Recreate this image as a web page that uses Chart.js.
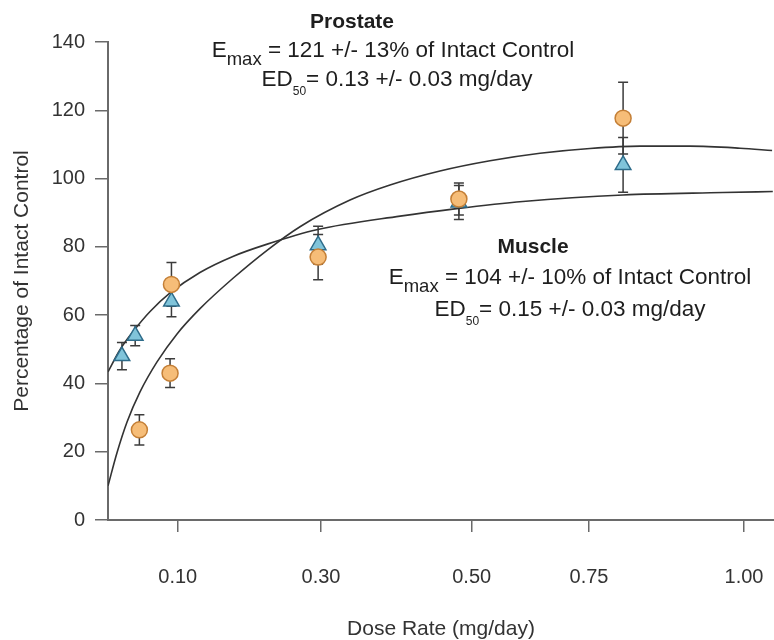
<!DOCTYPE html>
<html>
<head>
<meta charset="utf-8">
<script src="https://cdn.jsdelivr.net/npm/chart.js@4.4.1/dist/chart.umd.min.js"></script>
<style>
  html, body { margin: 0; background: #fff; }
  #wrap { width: 774px; height: 640px; position: relative; }
</style>
</head>
<body>
<div id="wrap"><canvas id="chart"></canvas></div>
<script>
// x axis ticks (dose, mg/day)
const doseTicks = [0.10, 0.30, 0.50, 0.75, 1.00];
const doseTickLabels = ['0.10', '0.30', '0.50', '0.75', '1.00'];

// prostate (circles): dose, mean % of intact control, error
const prostateDose = [0.045, 0.089, 0.091, 0.296, 0.483, 0.805];
const prostateMean = [26.4, 43, 69, 77, 94, 117.7];
const prostateErr  = [4.4, 4.2, 6.4, 6.6, 4.7, 10.5];

// muscle (triangles)
const muscleDose = [0.020, 0.039, 0.091, 0.296, 0.483, 0.805];
const muscleMean = [48, 54, 64, 80.5, 93, 104];
const muscleErr  = [4, 3, 4.5, 5.5, 5, 8];

// fitted curves
const prostateFitDose  = [0, 0.0129, 0.0273, 0.0459, 0.0703, 0.099, 0.1311, 0.1772, 0.2247, 0.2707, 0.3385, 0.3916, 0.4579, 0.539, 0.6456, 0.7516, 0.8323, 0.9129, 0.9935, 1.0468];
const prostateFitValue = [10, 19.7, 28.7, 37.5, 46.3, 54.5, 61.9, 70.8, 79, 85.9, 93.7, 98.1, 102.2, 105.2, 107.4, 108.8, 109.5, 109.5, 108.9, 108.2];
const muscleFitDose  = [0, 0.017, 0.036, 0.060, 0.089, 0.131, 0.177, 0.225, 0.294, 0.405, 0.480, 0.609, 0.805, 0.966, 1.048];
const muscleFitValue = [43.4, 49.8, 55.2, 61, 66.5, 72.5, 77.2, 80.8, 85, 89, 91.2, 93.3, 95.2, 95.9, 96.2];

// the printed dose axis is not evenly spaced; piecewise mapping dose -> fraction of axis
const knotDose = [0, 0.10, 0.30, 0.50, 0.75, 1.00, 1.05];
const knotSpot = [0, 0.1047, 0.3198, 0.5461, 0.7222, 0.9550, 1];

function doseToSpot(v) {
  const n = knotDose.length;
  for (let i = 1; i < n; i++) {
    if (v <= knotDose[i] || i === n - 1) {
      const t = (v - knotDose[i - 1]) / (knotDose[i] - knotDose[i - 1]);
      return knotSpot[i - 1] + t * (knotSpot[i] - knotSpot[i - 1]);
    }
  }
}
function spotToDose(s) {
  const n = knotSpot.length;
  for (let i = 1; i < n; i++) {
    if (s <= knotSpot[i] || i === n - 1) {
      const t = (s - knotSpot[i - 1]) / (knotSpot[i] - knotSpot[i - 1]);
      return knotDose[i - 1] + t * (knotDose[i] - knotDose[i - 1]);
    }
  }
}

class DoseScale extends Chart.LinearScale {
  getPixelForValue(value) {
    return this.getPixelForDecimal(doseToSpot(value));
  }
  getValueForPixel(pixel) {
    return spotToDose(this.getDecimalForPixel(pixel));
  }
}
DoseScale.id = 'dose';
DoseScale.defaults = Chart.LinearScale.defaults;
Chart.register(DoseScale);

const pts = (xs, ys) => xs.map((x, i) => ({ x: x, y: ys[i] }));

const FONT = '"Liberation Sans", Arial, Helvetica, sans-serif';
const AXIS = '#6a6a6a';

// error bars, drawn under the markers
const errorBars = {
  id: 'errorBars',
  beforeDatasetsDraw(chart) {
    const ctx = chart.ctx;
    const xs = chart.scales.x, ys = chart.scales.y;
    ctx.save();
    ctx.strokeStyle = '#3c3c3c';
    ctx.lineWidth = 1.5;
    chart.data.datasets.forEach((ds) => {
      if (!ds.errors) return;
      ds.data.forEach((p, i) => {
        const e = ds.errors[i];
        const px = xs.getPixelForValue(p.x);
        const top = ys.getPixelForValue(p.y + e);
        const bot = ys.getPixelForValue(p.y - e);
        ctx.beginPath();
        ctx.moveTo(px, top); ctx.lineTo(px, bot);
        ctx.moveTo(px - 5, top); ctx.lineTo(px + 5, top);
        ctx.moveTo(px - 5, bot); ctx.lineTo(px + 5, bot);
        ctx.stroke();
      });
    });
    ctx.restore();
  }
};

// text runs with sub-scripts
function drawRuns(ctx, runs, cx, baseline) {
  let total = 0;
  runs.forEach((r) => {
    ctx.font = (r.bold ? 'bold ' : '') + r.size + 'px ' + FONT;
    r.w = ctx.measureText(r.t).width;
    total += r.w;
  });
  let x = cx - total / 2;
  runs.forEach((r) => {
    ctx.font = (r.bold ? 'bold ' : '') + r.size + 'px ' + FONT;
    ctx.fillText(r.t, x, baseline + (r.dy || 0));
    x += r.w;
  });
}

const notes = {
  id: 'notes',
  afterDraw(chart) {
    const ctx = chart.ctx;
    ctx.save();
    ctx.fillStyle = '#1e1e1e';
    ctx.textAlign = 'left';
    ctx.textBaseline = 'alphabetic';
    drawRuns(ctx, [{ t: 'Prostate', size: 21, bold: true }], 352, 28);
    drawRuns(ctx, [{ t: 'E', size: 22.5 }, { t: 'max', size: 18.5, dy: 8 }, { t: ' = 121 +/- 13% of Intact Control', size: 22.5 }], 393, 57);
    drawRuns(ctx, [{ t: 'ED', size: 22.5 }, { t: '50', size: 12, dy: 9 }, { t: '= 0.13 +/- 0.03 mg/day', size: 22.5 }], 397, 86);
    drawRuns(ctx, [{ t: 'Muscle', size: 21, bold: true }], 533, 253);
    drawRuns(ctx, [{ t: 'E', size: 22.5 }, { t: 'max', size: 18.5, dy: 8 }, { t: ' = 104 +/- 10% of Intact Control', size: 22.5 }], 570, 284);
    drawRuns(ctx, [{ t: 'ED', size: 22.5 }, { t: '50', size: 12, dy: 9 }, { t: '= 0.15 +/- 0.03 mg/day', size: 22.5 }], 570, 316);
    ctx.restore();
  }
};

new Chart(document.getElementById('chart'), {
  type: 'scatter',
  data: {
    datasets: [
      {
        label: 'Prostate',
        data: pts(prostateDose, prostateMean),
        errors: prostateErr,
        pointStyle: 'circle',
        pointRadius: 8,
        backgroundColor: '#f6bd78',
        borderColor: '#c47f36',
        borderWidth: 1.5,
        order: 0
      },
      {
        label: 'Muscle',
        data: pts(muscleDose, muscleMean),
        errors: muscleErr,
        pointStyle: 'triangle',
        pointRadius: 9,
        backgroundColor: '#80c4da',
        borderColor: '#2e6c8a',
        borderWidth: 1.5,
        order: 1
      },
      {
        label: 'Prostate fit',
        data: pts(prostateFitDose, prostateFitValue),
        showLine: true,
        pointRadius: 0,
        borderColor: '#333',
        borderWidth: 1.6,
        cubicInterpolationMode: 'monotone',
        order: 2
      },
      {
        label: 'Muscle fit',
        data: pts(muscleFitDose, muscleFitValue),
        showLine: true,
        pointRadius: 0,
        borderColor: '#333',
        borderWidth: 1.6,
        cubicInterpolationMode: 'monotone',
        order: 2
      }
    ]
  },
  options: {
    responsive: true,
    maintainAspectRatio: false,
    animation: false,
    events: [],
    layout: { autoPadding: false, padding: { top: 42, right: 0, left: 0, bottom: 0 } },
    plugins: {
      legend: { display: false },
      tooltip: { enabled: false }
    },
    scales: {
      x: {
        type: 'dose',
        min: 0,
        max: 1.05,
        afterBuildTicks: (scale) => {
          scale.ticks = doseTicks.map((v) => ({ value: v }));
        },
        afterFit: (scale) => {
          scale.height = 120;
          scale.paddingLeft = 0;
          scale.paddingRight = 0;
        },
        border: { display: true, color: AXIS, width: 2 },
        grid: { drawOnChartArea: false, drawTicks: true, tickLength: 12, color: AXIS, lineWidth: 1.5 },
        ticks: {
          autoSkip: false,
          maxRotation: 0,
          padding: 33,
          color: '#333',
          font: { family: FONT, size: 20 },
          callback: (v, i) => doseTickLabels[i]
        },
        title: {
          display: true,
          text: 'Dose Rate (mg/day)',
          color: '#333',
          font: { family: FONT, size: 21, lineHeight: 1 },
          padding: { top: 0, bottom: 0 }
        }
      },
      y: {
        min: 0,
        max: 140,
        afterFit: (scale) => {
          scale.width = 108;
          scale.paddingTop = 0;
          scale.paddingBottom = 0;
        },
        border: { display: true, color: AXIS, width: 2 },
        grid: { drawOnChartArea: false, drawTicks: true, tickLength: 13, color: AXIS, lineWidth: 1.5 },
        ticks: {
          stepSize: 20,
          padding: 10,
          color: '#333',
          font: { family: FONT, size: 20 }
        },
        title: {
          display: true,
          text: 'Percentage of Intact Control',
          color: '#333',
          font: { family: FONT, size: 21 },
          padding: { top: 10, bottom: 0 }
        }
      }
    }
  },
  plugins: [errorBars, notes]
});
</script>
</body>
</html>
